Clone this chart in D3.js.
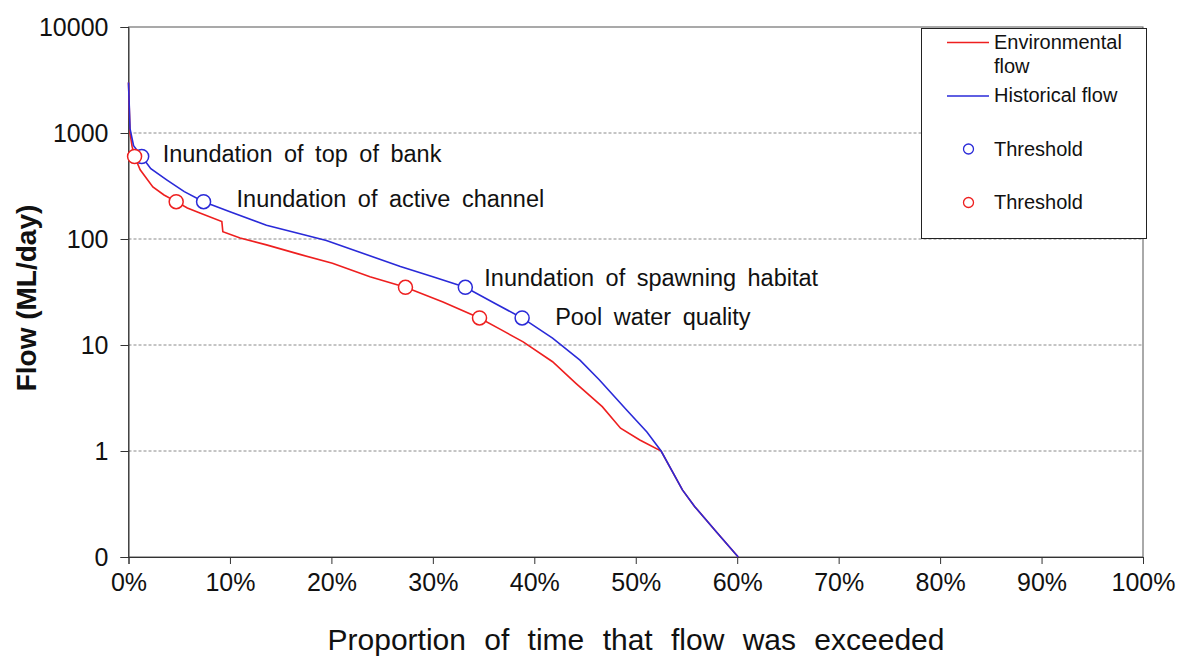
<!DOCTYPE html>
<html>
<head>
<meta charset="utf-8">
<script src="https://cdn.jsdelivr.net/npm/d3@7"></script>
<style>
  body { margin: 0; background: #fff; }
  svg text { font-family: "Liberation Sans", Arial, sans-serif; fill: #111; }
</style>
</head>
<body>
<script>
// flow duration curves, % of time exceeded vs flow (ML/day)
const envPct  = [0, 0.15, 0.35, 0.6, 1.15, 2.4, 3.5, 4.7, 5.8, 7.1, 9.2, 9.3, 11, 13.6, 16.8, 20.1, 23.8, 27.3, 31, 34.6, 36.8, 38.9, 41.8, 44.1, 46.7, 48.5, 50.4, 52.5, 54.6, 55.8, 58, 60.1];
const envFlow = [3000, 1000, 750, 600, 450, 310, 260, 225, 196, 175, 146, 117, 102, 88, 72, 59, 44, 35, 25.5, 18, 13.8, 10.7, 6.95, 4.35, 2.62, 1.64, 1.27, 1.0, 0.43, 0.30, 0.17, 0.1];

const histPct  = [0, 0.15, 0.5, 1.3, 2.2, 3.8, 5.5, 7.4, 10, 13.6, 16.9, 19.5, 22.8, 26.8, 30, 33.2, 36, 38.8, 41.8, 44.5, 46.4, 49.1, 51.1, 52.5, 54.6, 55.8, 58, 60.1];
const histFlow = [3000, 1100, 760, 600, 460, 360, 280, 225, 181, 135, 112, 97, 75, 55, 44, 35, 25, 18, 11.6, 7.2, 4.7, 2.44, 1.51, 1.0, 0.43, 0.30, 0.17, 0.1];

const thresholdNames = ["Inundation of top of bank", "Inundation of active channel", "Inundation of spawning habitat", "Pool water quality"];
const thresholdFlow = [600, 225, 35, 18];
const histThreshPct = [1.3, 7.4, 33.2, 38.8];
const envThreshPct  = [0.6, 4.7, 27.3, 34.6];

const yTicks = [0.1, 1, 10, 100, 1000, 10000];
const xTicks = [0, 10, 20, 30, 40, 50, 60, 70, 80, 90, 100];

// label offsets from the blue markers
const labelDx = [21, 33, 19, 33];
const labelDy = [5, 5, -1, 7];

const RED = "#ee1f1f", BLUE = "#2a2ad8";

const svg = d3.select("body").append("svg")
  .attr("width", 1186).attr("height", 659);

const x = d3.scaleLinear().domain([0, 100]).range([128.5, 1143]);
const y = d3.scaleLog().domain([0.1, 10000]).range([557, 27]);

// gridlines
svg.append("g").selectAll("line")
  .data(yTicks.filter(d => d > 0.1 && d < 10000))
  .join("line")
  .attr("x1", x(0)).attr("x2", x(100))
  .attr("y1", d => y(d)).attr("y2", d => y(d))
  .attr("stroke", "#8a8a8a").attr("stroke-width", 1)
  .attr("stroke-dasharray", "3,2");

// plot border (top/right)
svg.append("rect")
  .attr("x", x(0)).attr("y", y(10000))
  .attr("width", x(100) - x(0)).attr("height", y(0.1) - y(10000))
  .attr("fill", "none").attr("stroke", "#555").attr("stroke-width", 1);

const yAxis = svg.append("g")
  .attr("transform", `translate(${x(0)},0)`)
  .call(d3.axisLeft(y).tickValues(yTicks).tickSize(8).tickPadding(12)
    .tickFormat(d => d < 1 ? "0" : String(d)));

const xAxis = svg.append("g")
  .attr("transform", `translate(0,${y(0.1)})`)
  .call(d3.axisBottom(x).tickValues(xTicks).tickSize(7).tickPadding(9)
    .tickFormat(d => d + "%"));

[yAxis, xAxis].forEach(a => {
  a.select(".domain").attr("stroke", "#333");
  a.selectAll(".tick line").attr("stroke", "#333");
  a.selectAll(".tick text")
    .style("font-family", "'Liberation Sans', Arial, sans-serif")
    .style("font-size", "25px").attr("fill", "#111");
});
yAxis.selectAll(".tick text").attr("dy", "0.35em");

// curves (blue drawn last, as in the original where the overlap looks blue)
const line = d3.line().x(d => x(d[0])).y(d => y(d[1]));

svg.append("path")
  .datum(d3.zip(envPct, envFlow))
  .attr("d", line)
  .attr("fill", "none").attr("stroke", RED).attr("stroke-width", 1.6);

svg.append("path")
  .datum(d3.zip(histPct, histFlow))
  .attr("d", line)
  .attr("fill", "none").attr("stroke", BLUE).attr("stroke-width", 1.6);

// threshold markers
svg.append("g").selectAll("circle")
  .data(d3.zip(histThreshPct, thresholdFlow))
  .join("circle")
  .attr("cx", d => x(d[0])).attr("cy", d => y(d[1])).attr("r", 7)
  .attr("fill", "#fff").attr("stroke", BLUE).attr("stroke-width", 1.5);

svg.append("g").selectAll("circle")
  .data(d3.zip(envThreshPct, thresholdFlow))
  .join("circle")
  .attr("cx", d => x(d[0])).attr("cy", d => y(d[1])).attr("r", 7)
  .attr("fill", "#fff").attr("stroke", RED).attr("stroke-width", 1.5);

svg.append("g").selectAll("text")
  .data(thresholdNames)
  .join("text")
  .attr("x", (d, i) => x(histThreshPct[i]) + labelDx[i])
  .attr("y", (d, i) => y(thresholdFlow[i]) + labelDy[i])
  .style("font-size", "23.5px")
  .style("word-spacing", "5px")
  .text(d => d);

// axis titles
svg.append("text")
  .attr("x", 636).attr("y", 650)
  .attr("text-anchor", "middle")
  .style("font-size", "30px")
  .style("word-spacing", "10px")
  .text("Proportion of time that flow was exceeded");

svg.append("text")
  .attr("transform", "translate(36,298) rotate(-90)")
  .attr("text-anchor", "middle")
  .style("font-size", "28px").style("font-weight", "bold")
  .text("Flow (ML/day)");

// legend
const legend = svg.append("g");
legend.append("rect")
  .attr("x", 921.5).attr("y", 28.5).attr("width", 225).attr("height", 210)
  .attr("fill", "#fff").attr("stroke", "#222").attr("stroke-width", 1);

legend.append("line").attr("x1", 947).attr("x2", 989).attr("y1", 42.5).attr("y2", 42.5)
  .attr("stroke", RED).attr("stroke-width", 1.5);
legend.append("text").attr("x", 994).attr("y", 49).style("font-size", "20px").text("Environmental");
legend.append("text").attr("x", 994).attr("y", 72.5).style("font-size", "20px").text("flow");

legend.append("line").attr("x1", 947).attr("x2", 989).attr("y1", 96).attr("y2", 96)
  .attr("stroke", BLUE).attr("stroke-width", 1.5);
legend.append("text").attr("x", 994).attr("y", 102).style("font-size", "20px").text("Historical flow");

legend.append("circle").attr("cx", 968.5).attr("cy", 149).attr("r", 5)
  .attr("fill", "#fff").attr("stroke", BLUE).attr("stroke-width", 1.3);
legend.append("text").attr("x", 994).attr("y", 155.5).style("font-size", "20px").text("Threshold");

legend.append("circle").attr("cx", 968.5).attr("cy", 202.5).attr("r", 5)
  .attr("fill", "#fff").attr("stroke", RED).attr("stroke-width", 1.3);
legend.append("text").attr("x", 994).attr("y", 208.5).style("font-size", "20px").text("Threshold");
</script>
</body>
</html>
